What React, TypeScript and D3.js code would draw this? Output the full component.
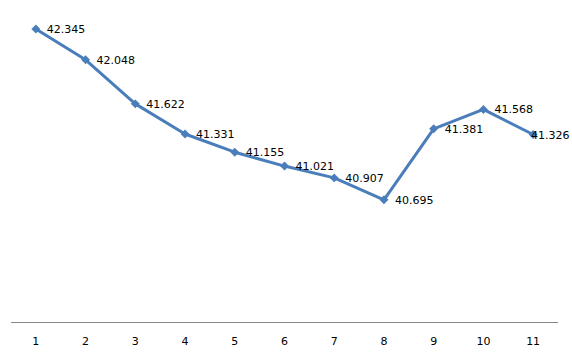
import React from "react";
import * as d3 from "d3";

const categories = ["1", "2", "3", "4", "5", "6", "7", "8", "9", "10", "11"];
const values = [42.345, 42.048, 41.622, 41.331, 41.155, 41.021, 40.907, 40.695, 41.381, 41.568, 41.326];
const labels = ["42.345", "42.048", "41.622", "41.331", "41.155", "41.021", "40.907", "40.695", "41.381", "41.568", "41.326"];

export default function App() {
  const W = 572, H = 357;
  const x = d3.scaleBand().domain(categories).range([11, 558]);
  const y = d3.scaleLinear().domain([39.5, 42.5]).range([323.5, 13]);
  const cx = (c: string) => (x(c) as number) + x.bandwidth() / 2;
  const line = d3.line<number>().x((_, i) => cx(categories[i])).y((v) => y(v));
  const marker = d3.symbol().type(d3.symbolSquare).size(40)();
  const font = "Tahoma, 'DejaVu Sans', Verdana, sans-serif";
  return (
    <svg width={W} height={H} style={{ position: "absolute", left: 0, top: 0, background: "#fff" }}>
      <line x1={11} x2={558} y1={322.5} y2={322.5} stroke="#868686" strokeWidth={1.2} />
      {categories.map((c) => (
        <text key={c} x={cx(c)} y={345} textAnchor="middle" fontFamily={font} fontSize={11} fill="#000">
          {c}
        </text>
      ))}
      <path d={line(values) || ""} fill="none" stroke="#4a7ebb" strokeWidth={3} strokeLinejoin="round" />
      {values.map((v, i) => (
        <path key={i} d={marker || ""} transform={`translate(${cx(categories[i])},${y(v)}) rotate(45)`} fill="#4a7ebb" />
      ))}
      {values.map((v, i) => {
        const px = cx(categories[i]);
        const tw = 35;
        const tx = Math.min(px + 11, 566 - tw);
        return (
          <text key={"l" + i} x={tx} y={y(v) + 4} fontFamily={font} fontSize={11} fill="#000">
            {labels[i]}
          </text>
        );
      })}
    </svg>
  );
}
